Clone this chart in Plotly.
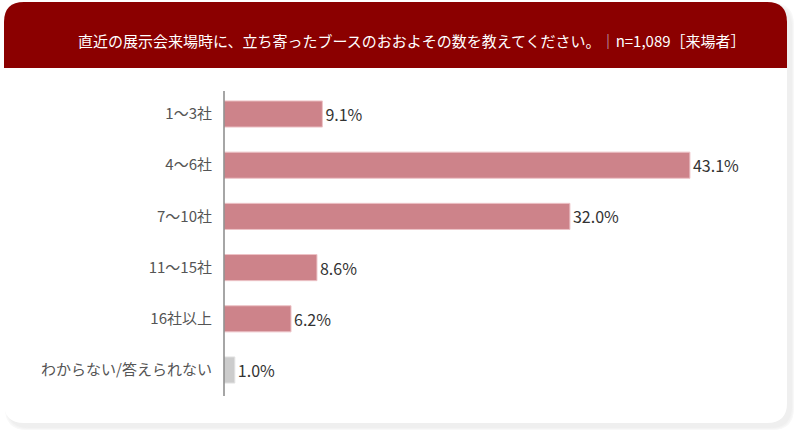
import plotly.graph_objects as go

categories = ["1～3社", "4～6社", "7～10社", "11～15社", "16社以上", "わからない/答えられない"]
values = [9.1, 43.1, 32.0, 8.6, 6.2, 1.0]
bar_colors = ["#CD838A"] * 5 + ["#CCCCCC"]
line_colors = ["#EDC3C7"] * 5 + ["#E2E2E2"]

W, H = 800, 437
FONT = "Noto Sans CJK JP"


def px(x):
    return x / W


def py(y):
    return 1 - y / H


def rrect(x0, y0, x1, y1, r, top=True, bottom=True):
    rt = r if top else 0
    rb = r if bottom else 0
    p = []
    p.append(f"M {px(x0 + rt)},{py(y0)}")
    p.append(f"L {px(x1 - rt)},{py(y0)}")
    if rt:
        p.append(f"Q {px(x1)},{py(y0)} {px(x1)},{py(y0 + rt)}")
    p.append(f"L {px(x1)},{py(y1 - rb)}")
    if rb:
        p.append(f"Q {px(x1)},{py(y1)} {px(x1 - rb)},{py(y1)}")
    p.append(f"L {px(x0 + rb)},{py(y1)}")
    if rb:
        p.append(f"Q {px(x0)},{py(y1)} {px(x0)},{py(y1 - rb)}")
    p.append(f"L {px(x0)},{py(y0 + rt)}")
    if rt:
        p.append(f"Q {px(x0)},{py(y0)} {px(x0 + rt)},{py(y0)}")
    p.append("Z")
    return " ".join(p)


shapes = []
# soft shadow
for i, c in enumerate(["#F8F8F8", "#F3F3F3", "#EFEFEF"]):
    o = 3 - i
    shapes.append(dict(type="path", xref="paper", yref="paper", layer="below",
                       path=rrect(4 + 4 - o, 2 + 4 - o, 787 + 4 + o, 423 + 4 + o, 22),
                       fillcolor=c, line=dict(width=0)))
shapes.append(dict(type="path", xref="paper", yref="paper", layer="below",
                   path=rrect(4, 2, 787, 423, 20), fillcolor="#FFFFFF",
                   line=dict(width=0)))
shapes.append(dict(type="path", xref="paper", yref="paper", layer="below",
                   path=rrect(4, 2, 787, 68, 20, top=True, bottom=False),
                   fillcolor="#8B0000", line=dict(width=0)))
# axis line
shapes.append(dict(type="line", xref="paper", yref="paper",
                   x0=px(224), x1=px(224), y0=py(91), y1=py(396),
                   line=dict(color="#888888", width=1.5)))

fig = go.Figure(go.Bar(
    x=values, y=categories, orientation="h",
    marker=dict(color=bar_colors, line=dict(color=line_colors, width=1)),
    width=0.51,
    text=[f"{v:.1f}%" for v in values], textposition="outside",
    textfont=dict(family=FONT, size=16, color="#333333"),
    cliponaxis=False,
))

x_per_unit = 10.81
x0_px, x1_px = 224, 780
fig.update_layout(
    width=W, height=H,
    margin=dict(l=0, r=0, t=0, b=0),
    paper_bgcolor="#FFFFFF", plot_bgcolor="rgba(0,0,0,0)",
    showlegend=False,
    shapes=shapes,
    xaxis=dict(domain=[px(x0_px), px(x1_px)], range=[0, (x1_px - x0_px) / x_per_unit],
               visible=False, fixedrange=True),
    yaxis=dict(domain=[py(395.6), py(88.4)], autorange=False, range=[5.5, -0.5],
               showline=False, showgrid=False, zeroline=False, ticks="",
               tickfont=dict(family=FONT, size=15, color="#555555"),
               ticklabelstandoff=11, automargin=False),
    annotations=[dict(
        xref="paper", yref="paper", x=px(412), y=py(40), xanchor="center", yanchor="middle",
        text="直近の展示会来場時に、立ち寄ったブースのおおよその数を教えてください。"
             "<span style='color:#C8C8C8'>｜</span>n=1,089［来場者］",
        showarrow=False, font=dict(family=FONT, size=15, color="#FFFFFF"))],
    font=dict(family=FONT),
)

fig.write_html("out.html")
